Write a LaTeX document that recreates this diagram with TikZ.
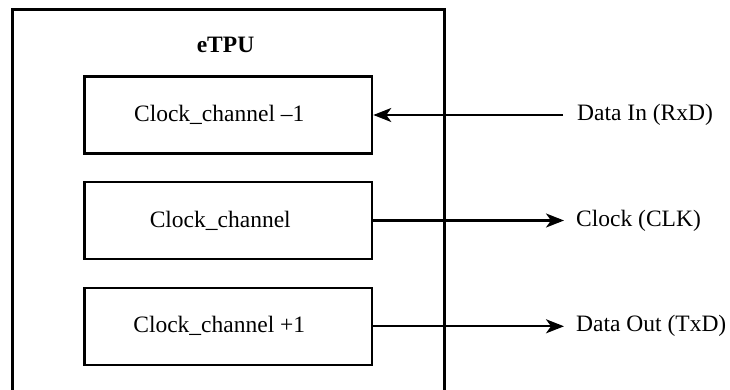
\documentclass[tikz,border=0pt]{standalone}
\usepackage{fontspec}
\setmainfont{Liberation Serif}
\usetikzlibrary{arrows.meta}
\begin{document}
\begin{tikzpicture}[x=1pt,y=-1pt,
  txt/.style={font=\fontsize{23.5pt}{28pt}\selectfont, inner sep=0pt},
  chbox/.style={draw, line width=2.6pt, minimum width=287.5pt, minimum height=77pt, inner sep=0pt},
  outerbox/.style={draw, line width=2.8pt, minimum width=432pt, minimum height=400pt, inner sep=0pt},
  arr/.style={line width=2.2pt, -{Stealth[length=18pt, width=14pt, inset=5pt]}}]
\useasboundingbox (0,0) rectangle (730,390);
\clip (0,0) rectangle (730,390);
\node[outerbox] (etpu) at (228.5,209.5) {};
\node[txt, font=\fontsize{23.5pt}{28pt}\selectfont\bfseries] (title) at (225.5,45) {eTPU};
\node[chbox, label={[txt, xshift=-9pt]center:Clock\_channel \textendash1}] (b1) at (228.25,115) {};
\node[chbox, label={[txt, xshift=-8pt]center:Clock\_channel}] (b2) at (228.25,220.5) {};
\node[chbox, label={[txt, xshift=-9pt]center:Clock\_channel +1}] (b3) at (228.25,326.3) {};
\node[txt, anchor=west] (din) at (577,115) {Data In (RxD)};
\node[txt, anchor=west] (clk) at (576,220.5) {Clock (CLK)};
\node[txt, anchor=west] (dout) at (576,326.3) {Data Out (TxD)};
\draw[arr] ([xshift=-14pt]din.west) -- (b1.east);
\draw[arr] (b2.east) -- ([xshift=-12pt]clk.west);
\draw[arr] (b3.east) -- ([xshift=-12pt]dout.west);
\end{tikzpicture}
\end{document}
